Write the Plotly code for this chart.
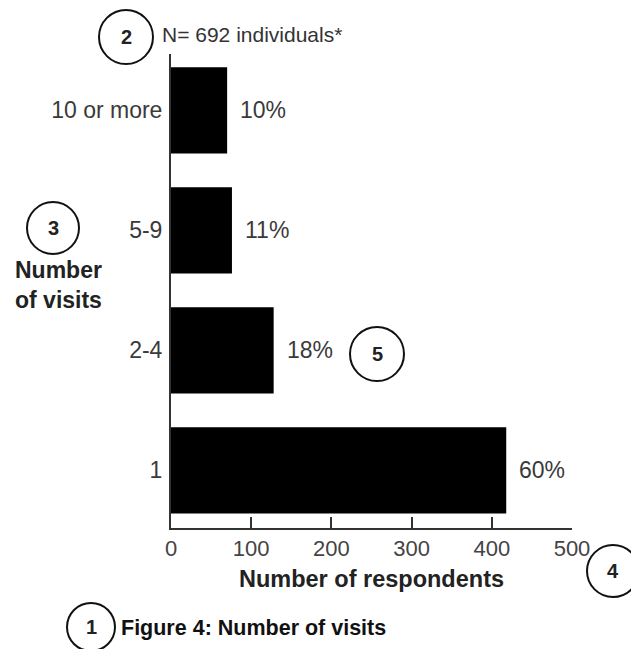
import plotly.graph_objects as go

# data
visits = ["1", "2-4", "5-9", "10 or more"]
respondents = [418, 128, 76, 70]
shares = ["60%", "18%", "11%", "10%"]

W, H = 639, 649
OFF = 8  # page body margin: figure starts 8px in
L, R, T, B = 171 - OFF, 67 + OFF, 54 - OFF, 121 + OFF
PW, PH = W - L - R, H - T - B


def px(x):
    return (x - OFF - L) / PW


def py(y):
    return (H - B - (y - OFF)) / PH


FONT = "Arial, Liberation Sans, sans-serif"

fig = go.Figure()
fig.add_trace(go.Bar(
    x=respondents, y=visits, orientation="h",
    marker=dict(color="black", line=dict(width=0)),
    hoverinfo="skip",
))

# percentage labels to the right of each bar (category index as y)
for i, (v, s) in enumerate(zip(respondents, shares)):
    fig.add_annotation(x=v, y=i, text=s, showarrow=False, xanchor="left", yanchor="middle",
                       xshift=11, font=dict(size=23, color="#3a3a3a", family=FONT))

# numbered circles
circles = [("1", 91, 627, 24), ("2", 126, 37, 27), ("3", 53, 228, 26),
           ("4", 613, 571, 26), ("5", 377, 354, 27)]
for lab, cx, cy, r in circles:
    fig.add_shape(type="circle", xref="paper", yref="paper",
                  x0=px(cx - r), x1=px(cx + r), y0=py(cy + r), y1=py(cy - r),
                  line=dict(color="#111", width=2))
    fig.add_annotation(xref="paper", yref="paper", x=px(cx), y=py(cy), text="<b>%s</b>" % lab,
                       xanchor="center", yanchor="middle", showarrow=False,
                       font=dict(size=20, color="#222", family=FONT))

fig.add_annotation(xref="paper", yref="paper", x=px(160), y=py(35), xanchor="left", yanchor="middle",
                   text="N= 692 individuals*", showarrow=False,
                   font=dict(size=21, color="#333", family=FONT))
fig.add_annotation(xref="paper", yref="paper", x=px(13), y=py(285), xanchor="left", yanchor="middle",
                   text="<b>Number<br>of visits</b>", showarrow=False, align="left",
                   font=dict(size=23, color="#222", family=FONT))
fig.add_annotation(xref="paper", yref="paper", x=px(119), y=py(628), xanchor="left", yanchor="middle",
                   text="<b>Figure 4: Number of visits</b>", showarrow=False,
                   font=dict(size=21.5, color="#111", family=FONT))

fig.update_layout(
    width=W, height=H,
    margin=dict(l=L, r=R, t=T, b=B, autoexpand=False),
    plot_bgcolor="white", paper_bgcolor="white",
    bargap=0.28, showlegend=False,
    font=dict(family=FONT, color="#333"),
)
fig.update_xaxes(
    range=[0, 500], tickvals=[0, 100, 200, 300, 400, 500],
    ticks="inside", ticklen=11, tickwidth=2, tickcolor="#333",
    showline=True, linecolor="#333", linewidth=2, showgrid=False, zeroline=False,
    tickfont=dict(size=22, color="#444"),
    title=dict(text="<b>Number of respondents</b>", font=dict(size=23.5, color="#222"), standoff=10),
)
fig.update_yaxes(
    range=[-0.48, 3.47], categoryorder="array", categoryarray=visits,
    showline=True, linecolor="#333", linewidth=2, showgrid=False, zeroline=False,
    ticks="", tickfont=dict(size=23, color="#3a3a3a"), ticklabelstandoff=2,
)

fig.write_html("out.html")
